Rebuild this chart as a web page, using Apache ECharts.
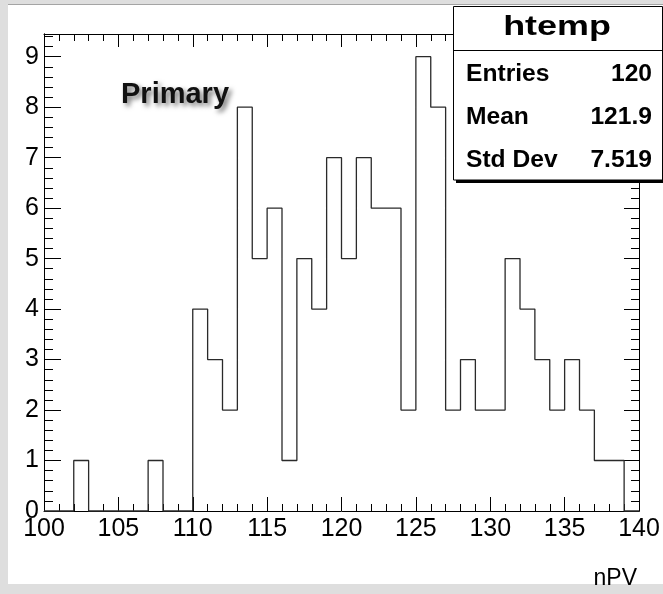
<!DOCTYPE html>
<html>
<head>
<meta charset="utf-8">
<script src="https://cdn.jsdelivr.net/npm/echarts@6/dist/echarts.min.js"></script>
<style>
  html, body { margin: 0; padding: 0; width: 663px; height: 594px; overflow: hidden; background: #dedede; }
  #paper { position: absolute; left: 8px; top: 4px; width: 655px; height: 579px; background: #ffffff; border-top: 1px solid #a4a4a4; }
  #chart { position: absolute; left: 0; top: 0; width: 663px; height: 594px; }
</style>
</head>
<body>
<div id="paper"></div>
<div id="chart"></div>
<script>
// nPV histogram: 40 bins of width 1 starting at 100
const binStart = 100;
const binWidth = 1;
const counts = [
  0, 0, 1, 0, 0, 0, 0, 1, 0, 0,
  4, 3, 2, 8, 5, 6, 1, 5, 4, 7,
  5, 7, 6, 6, 2, 9, 8, 2, 3, 2,
  2, 5, 4, 3, 2, 3, 2, 1, 1, 0
];
const xTicks = [100, 105, 110, 115, 120, 125, 130, 135, 140];
const yTicks = [0, 1, 2, 3, 4, 5, 6, 7, 8, 9];

// statistics panel
const statsTitle = 'htemp';
const statsLabels = ['Entries', 'Mean', 'Std Dev'];
const statsValues = ['120', '121.9', '7.519'];
const padLabel = 'Primary';
const xTitle = 'nPV';

const FONT = "'Liberation Sans', Helvetica, Arial, sans-serif";
const xMin = xTicks[0], xMax = xTicks[xTicks.length - 1];
const yMax = Math.max(...counts) * 1.05;

// step outline through bin edges
const outline = counts.map((c, i) => [binStart + i * binWidth, c]);
outline.push([binStart + counts.length * binWidth, counts[counts.length - 1]]);

const black = { color: '#000', width: 1 };

function xAx(position, major, minor, showLabel) {
  return {
    type: 'value', min: xMin, max: xMax, interval: xTicks[1] - xTicks[0], position,
    axisLine: { show: true, onZero: false, lineStyle: black },
    axisTick: { show: true, inside: true, length: major, lineStyle: black },
    minorTick: { show: true, splitNumber: 5, length: minor, lineStyle: black },
    splitLine: { show: false },
    axisLabel: showLabel ? { show: true, fontSize: 25, color: '#000', fontFamily: FONT, margin: 6 } : { show: false }
  };
}
function yAx(position, interval, len, showLabel) {
  return {
    type: 'value', min: 0, max: yMax, interval, position,
    axisLine: { show: true, onZero: false, lineStyle: black },
    axisTick: { show: true, inside: true, length: len, lineStyle: black },
    splitLine: { show: false },
    axisLabel: showLabel ? {
      show: true, fontSize: 25, color: '#000', fontFamily: FONT, margin: 5,
      showMaxLabel: false, formatter: v => (yTicks.includes(v) ? String(v) : '')
    } : { show: false }
  };
}

const chart = echarts.init(document.getElementById('chart'), null, { renderer: 'canvas' });

const rowY = [75, 118, 161];
const statsGraphics = [
  { type: 'rect', shape: { x: 456, y: 180, width: 210, height: 3 }, style: { fill: '#000' }, z: 100 },
  { type: 'rect', shape: { x: 453.5, y: 6.5, width: 209, height: 173.5 }, style: { fill: '#fff', stroke: '#000', lineWidth: 1 }, z: 101 },
  { type: 'line', shape: { x1: 453.5, y1: 50.5, x2: 663, y2: 50.5 }, style: { stroke: '#000', lineWidth: 1 }, z: 102 },
  { type: 'text', x: 557, y: 28, scaleX: 1.33, z: 103,
    style: { text: statsTitle, font: `bold 27px ${FONT}`, fill: '#000', align: 'center', verticalAlign: 'middle' } }
];
statsLabels.forEach((lab, i) => {
  statsGraphics.push({ type: 'text', x: 466, y: rowY[i], scaleX: 1.07, z: 103,
    style: { text: lab, font: `bold 23px ${FONT}`, fill: '#000', align: 'left', verticalAlign: 'middle' } });
  statsGraphics.push({ type: 'text', x: 652, y: rowY[i], scaleX: 1.07, z: 103,
    style: { text: statsValues[i], font: `bold 23px ${FONT}`, fill: '#000', align: 'right', verticalAlign: 'middle' } });
});

chart.setOption({
  animation: false,
  backgroundColor: 'transparent',
  grid: { left: 44, right: 24, top: 34, bottom: 83, show: false },
  xAxis: [xAx('bottom', 14, 7, true), xAx('top', 13, 7, false)],
  yAxis: [yAx('left', 1, 17, true), yAx('left', 0.2, 9, false), yAx('right', 1, 15, false), yAx('right', 0.2, 8, false)],
  series: [{
    type: 'line', xAxisIndex: 0, yAxisIndex: 0, step: 'end', data: outline,
    symbol: 'none', clip: false, lineStyle: { color: '#2a2a2a', width: 1.3 }, z: 5
  }],
  graphic: [
    { type: 'text', x: 121, y: 95, z: 50,
      style: { text: padLabel, font: `bold 29px ${FONT}`, fill: '#111', align: 'left', verticalAlign: 'middle',
        textShadowColor: 'rgba(0,0,0,0.55)', textShadowBlur: 5, textShadowOffsetX: 3, textShadowOffsetY: 3 } },
    { type: 'text', x: 637, y: 579, z: 50,
      style: { text: xTitle, font: `23px ${FONT}`, fill: '#000', align: 'right', verticalAlign: 'middle' } },
    ...statsGraphics
  ]
});
</script>
</body>
</html>
